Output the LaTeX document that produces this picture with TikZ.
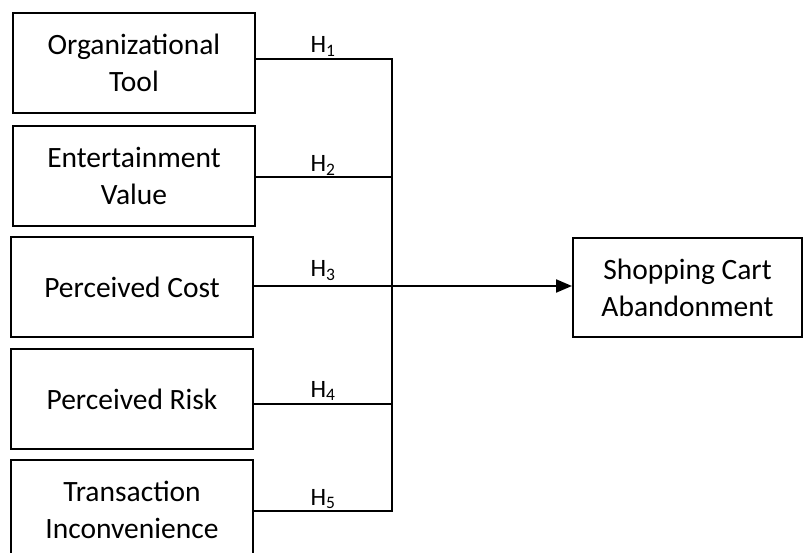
\documentclass[tikz,border=0pt]{standalone}
\usepackage{fontspec}
\setmainfont{Carlito}
\usetikzlibrary{arrows.meta}
\begin{document}
\begin{tikzpicture}[x=1pt,y=-1pt,
  box/.style={draw,line width=2pt,minimum width=242pt,minimum height=100pt,align=center,inner sep=0pt,font=\fontsize{29.5}{37}\selectfont},
  hlab/.style={anchor=base,inner sep=0pt,font=\fontsize{25}{30}\selectfont},
  conn/.style={line width=2pt}]
\useasboundingbox (0,0) rectangle (803,553);
\clip (0,0) rectangle (803,553);
\node[box] (b1) at (134,63) {Organizational\\Tool};
\node[box] (b2) at (134,176) {Entertainment\\Value};
\node[box] (b3) at (132,287) {Perceived Cost};
\node[box] (b4) at (132,399) {Perceived Risk};
\node[box] (b5) at (132,510) {Transaction\\Inconvenience};
\node[draw,line width=2pt,minimum width=229pt,minimum height=99pt,align=center,inner sep=0pt,font=\fontsize{29.5}{37}\selectfont] (tgt) at (687.5,287.5) {Shopping Cart\\Abandonment};
\coordinate (j1) at (392,59);
\coordinate (j2) at (392,177);
\coordinate (j3) at (392,286);
\coordinate (j4) at (392,404);
\coordinate (j5) at (392,511);
\draw[conn] (b1.east |- j1) -- (j1);
\draw[conn] (b2.east |- j2) -- (j2);
\draw[conn] (b4.east |- j4) -- (j4);
\draw[conn] (b5.east |- j5) -- (j5);
\draw[conn,line cap=rect] (j1) -- (j5);
\draw[conn,-{Triangle[length=16pt,width=13pt]}] (b3.east |- j3) -- (tgt.west |- j3);
\node[hlab] (h1) at (323,53) {H\textsubscript{1}};
\node[hlab] (h2) at (323,172) {H\textsubscript{2}};
\node[hlab] (h3) at (323,277) {H\textsubscript{3}};
\node[hlab] (h4) at (323,397) {H\textsubscript{4}};
\node[hlab] (h5) at (323,505) {H\textsubscript{5}};
\end{tikzpicture}
\end{document}
